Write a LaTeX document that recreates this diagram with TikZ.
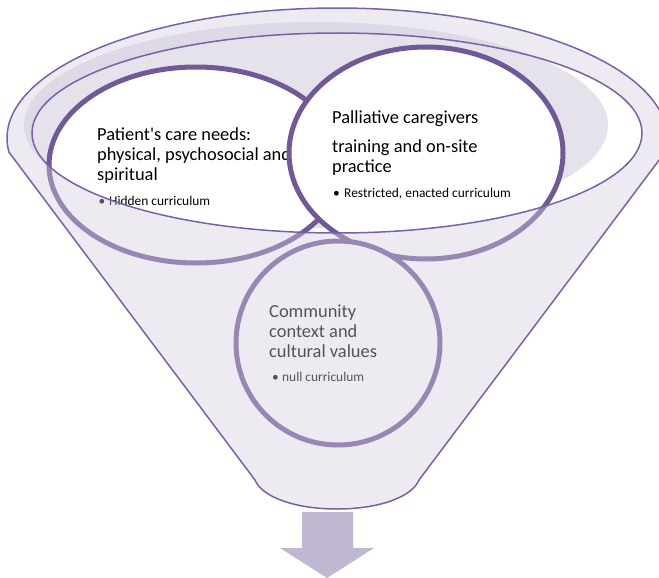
\documentclass[tikz,border=0pt]{standalone}
\usepackage{fontspec}
\setmainfont{Carlito}
\newfontfamily\calfont{Carlito}
\definecolor{rimline}{RGB}{122,96,166}
\definecolor{ringcol}{RGB}{113,88,153}
\definecolor{shadecol}{RGB}{229,226,236}
\definecolor{veilcol}{RGB}{212,205,222}
\definecolor{arrowcol}{RGB}{192,183,208}
\begin{document}
\begin{tikzpicture}[x=1pt,y=-1pt,
  ring/.style={draw=ringcol, line width=5pt, fill=white},
  bigtxt/.style={anchor=base west, inner sep=0pt, font=\calfont\fontsize{18.4}{20}\selectfont},
  smalltxt/.style={anchor=base west, inner sep=0pt, font=\calfont\fontsize{13.4}{15}\selectfont},
  funnel/.style={insert path={(fr) arc[start angle=-6.3,end angle=186.3,x radius=330pt,y radius=130pt] -- (255,480) .. controls (262,497) and (295,509) .. (337,509) .. controls (379,509) and (412,497) .. (419,480) -- cycle}},
  rim/.style={insert path={(337,133) ellipse[x radius=305pt, y radius=100pt]}}]
\useasboundingbox (0,0) rectangle (659,578);
\path (337,138) ++(-6.3:330pt and 130pt) coordinate (fr);
% base
\fill[white][funnel];
% inner shading of the bowl
\fill[shadecol] (316,125) ellipse[x radius=292pt, y radius=103pt];
% circle A
\path[ring] (196,165) ellipse[x radius=147pt, y radius=98pt];
\node[bigtxt] (a1) at (97,140) {Patient's care needs:};
\node[bigtxt] (a2) at (97,160) {physical, psychosocial and};
\node[bigtxt] (a3) at (97,180) {spiritual};
\node[smalltxt] (ab) at (98.5,205) {•};
\node[smalltxt] (a4) at (109,205) {Hidden curriculum};
% circle B
\path[ring] (426,153) ellipse[x radius=137pt, y radius=106pt];
\node[bigtxt] (b1) at (332,123) {Palliative caregivers};
\node[bigtxt] (b2) at (332,152) {training and on-site};
\node[bigtxt] (b3) at (332,172) {practice};
\node[smalltxt] (bb) at (333,197) {•};
\node[smalltxt] (b4) at (344,197) {Restricted, enacted curriculum};
% circle C
\path[ring] (338,343) ellipse[x radius=102pt, y radius=102pt];
\node[bigtxt] (c1) at (269,317) {Community};
\node[bigtxt] (c2) at (269,337) {context and};
\node[bigtxt] (c3) at (269,357) {cultural values};
\node[smalltxt] (cb) at (272,381) {•};
\node[smalltxt] (c4) at (282,381) {null curriculum};
% translucent funnel body
\fill[veilcol, fill opacity=0.4, even odd rule][funnel][rim];
% outlines
\draw[rimline, line width=1.5pt][funnel];
\draw[rimline, line width=1.5pt][rim];
% arrow
\fill[arrowcol] (302,512) -- (353,512) -- (353,548) -- (374,548) -- (327,578) -- (280,548) -- (302,548) -- cycle;
\end{tikzpicture}
\end{document}
